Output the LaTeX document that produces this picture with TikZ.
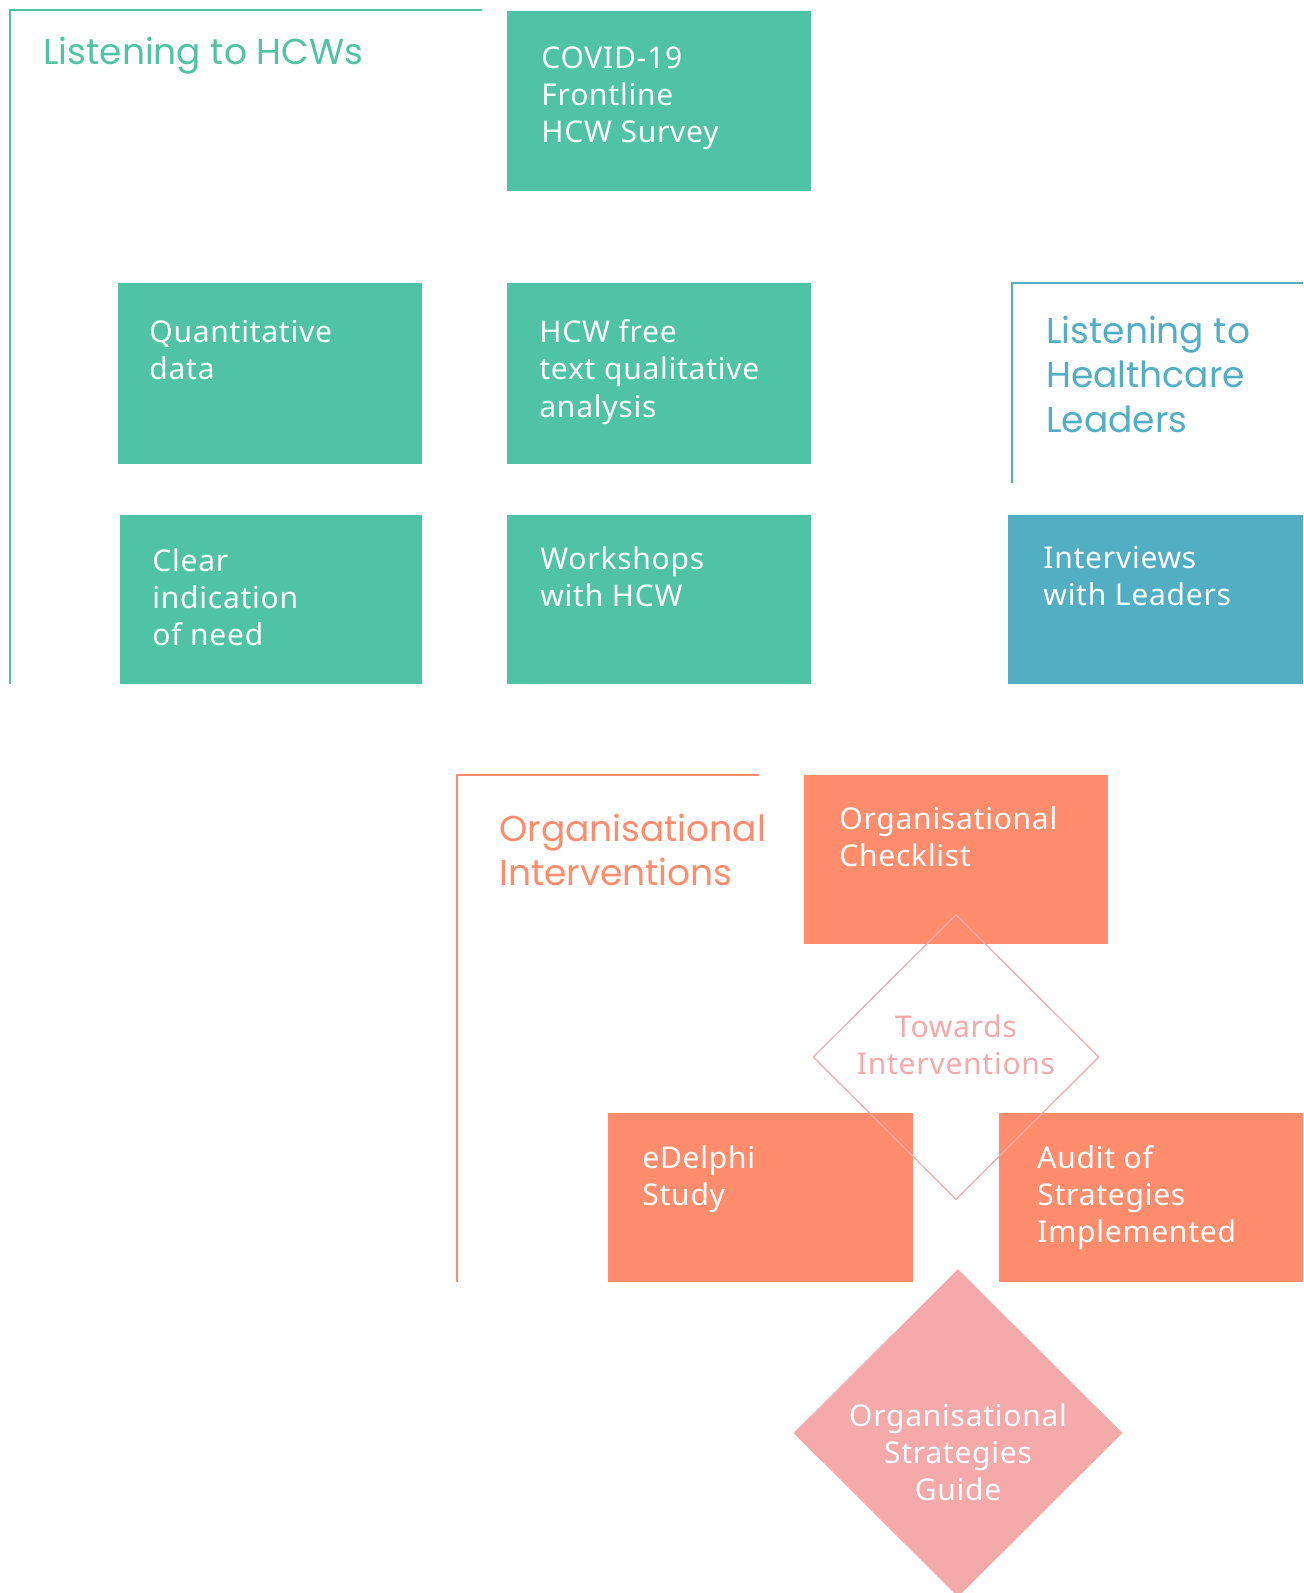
\documentclass[tikz,border=0pt]{standalone}
\usepackage{fontspec}
\setmainfont{Noto Sans}[LetterSpace=2.5]
\newfontfamily\titlefont{Poppins}
\usetikzlibrary{shapes.geometric}
\definecolor{hcwgreen}{HTML}{4FC3A3}
\definecolor{leadblue}{HTML}{51AEC3}
\definecolor{orgorange}{HTML}{FF8C6D}
\definecolor{guidepink}{HTML}{F4A9AA}
\begin{document}
\begin{tikzpicture}[x=0.5pt,y=-0.5pt,
  box/.style={draw=none,inner sep=0pt,outer sep=0pt,anchor=north west},
  greenbox/.style={box,fill=hcwgreen},
  bluebox/.style={box,fill=leadblue},
  orangebox/.style={box,fill=orgorange},
  boxtext/.style={text=white,inner sep=0pt,align=left,font=\fontsize{15}{18.5}\selectfont,anchor=base west},
  titletext/.style={inner sep=0pt,align=left,font=\titlefont\fontsize{18}{22}\selectfont,anchor=base west},
  frameline/.style={line width=1pt},
]
\useasboundingbox (0,0) rectangle (1303,1593);

% frames
\draw[frameline,hcwgreen] (482,10) -- (9.5,10) -- (9.5,684);
\draw[frameline,leadblue] (1303,283) -- (1012,283) -- (1012,483);
\draw[frameline,orgorange] (759,775) -- (457,775) -- (457,1282);

% titles (anchor at baseline of last line)
\node[titletext,text=hcwgreen] (t1) at (43,65) {Listening to HCWs};
\node[titletext,text=leadblue] (t2) at (1046,432) {Listening to\\Healthcare\\Leaders};
\node[titletext,text=orgorange] (t3) at (499,885) {Organisational\\Interventions};

% boxes
\node[greenbox,minimum width=152pt,minimum height=90pt] (covid) at (507,11) {};
\node[greenbox,minimum width=152pt,minimum height=90.5pt] (quant) at (118,283) {};
\node[greenbox,minimum width=152pt,minimum height=90.5pt] (qual) at (507,283) {};
\node[greenbox,minimum width=151pt,minimum height=84.5pt] (need) at (120,515) {};
\node[greenbox,minimum width=152pt,minimum height=84.5pt] (work) at (507,515) {};
\node[bluebox,minimum width=147.5pt,minimum height=84.5pt] (interv) at (1008,515) {};
\node[orangebox,minimum width=152pt,minimum height=84.5pt] (check) at (804,775) {};
\node[orangebox,minimum width=152.5pt,minimum height=84.5pt] (edelphi) at (608,1113) {};
\node[orangebox,minimum width=152pt,minimum height=84.5pt] (audit) at (999,1113) {};

% box texts (anchor at baseline of last line)
\node[boxtext] (covidt) at (541,143) {COVID-19\\Frontline\\HCW Survey};
\node[boxtext] (quantt) at (149,380) {Quantitative\\data};
\node[boxtext] (qualt) at (539,417) {HCW free\\text qualitative\\analysis};
\node[boxtext] (needt) at (152,645) {Clear\\indication\\of need};
\node[boxtext] (workt) at (540,606) {Workshops\\with HCW};
\node[boxtext] (intervt) at (1043,605) {Interviews\\with Leaders};
\node[boxtext] (checkt) at (839,866) {Organisational\\Checklist};
\node[boxtext] (edelphit) at (642,1205) {eDelphi\\Study};
\node[boxtext] (auditt) at (1037,1242) {Audit of\\Strategies\\Implemented};

% diamonds
\node[diamond,draw=guidepink,line width=0.6pt,inner sep=0pt,minimum width=143pt,minimum height=142.5pt] (towards) at (956,1057) {};
\node[boxtext,text=guidepink,align=center,anchor=base] (towardst) at (956,1074) {Towards\\Interventions};
\node[diamond,fill=guidepink,draw=none,inner sep=0pt,minimum width=164.5pt,minimum height=164pt] (guide) at (958,1433) {};
\node[boxtext,align=center,anchor=base] (guidet) at (958,1500) {Organisational\\Strategies\\Guide};
\end{tikzpicture}
\end{document}
